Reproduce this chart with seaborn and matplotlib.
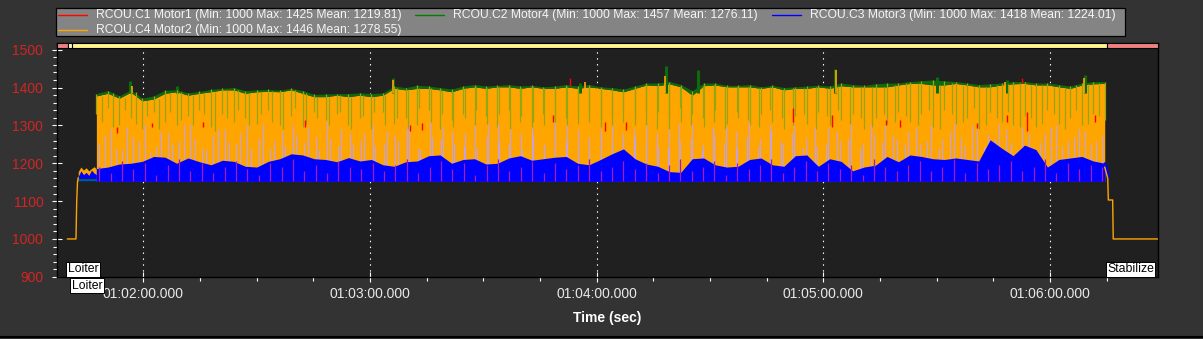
import numpy as np
import pandas as pd
import matplotlib
matplotlib.use("Agg")
import matplotlib.pyplot as plt
import matplotlib.transforms as mtransforms
from matplotlib.patches import Rectangle
from matplotlib.lines import Line2D
from matplotlib.ticker import MultipleLocator, FuncFormatter
import seaborn as sns

# ---------------- data ----------------
series_names = ["RCOU.C1 Motor1", "RCOU.C2 Motor4", "RCOU.C3 Motor3", "RCOU.C4 Motor2"]
series_colors = ["#ff0000", "#008000", "#0000ff", "#ffa500"]
series_min = [1000, 1000, 1000, 1000]
series_max = [1425, 1457, 1418, 1446]
series_mean = [1219.81, 1276.11, 1224.01, 1278.55]

# flight (armed, hovering) section: time in seconds of day
flight_start, flight_end = 3707.6, 3974.5
band_floor = 1152

# upper envelope of Motor2 (C4, orange)
orange_top = ([1378, 1385, 1372, 1388, 1365, 1370, 1385, 1389, 1380, 1385, 1389, 1394,
               1394, 1385, 1389, 1390, 1389, 1394, 1385, 1376, 1376, 1380, 1376, 1380]
              + [1376, 1380, 1398, 1394, 1398, 1398, 1394, 1389, 1398, 1402, 1398, 1402,
                 1402, 1398, 1402, 1398, 1398, 1402, 1398, 1402, 1398, 1394, 1389]
              + [1398, 1407, 1405, 1410, 1402, 1380, 1405, 1407, 1402, 1402, 1402, 1398,
                 1402, 1394, 1398, 1398, 1402, 1398, 1405, 1402, 1402, 1402, 1402, 1407]
              + [1411, 1411, 1407, 1407, 1411, 1407, 1402, 1402, 1407, 1410, 1411, 1407,
                 1407, 1402, 1398, 1407, 1410, 1411])
# upper envelope of Motor4 (C2, green)
green_top = ([1384, 1392, 1378, 1394, 1372, 1378, 1393, 1394, 1386, 1390, 1395, 1398,
              1400, 1392, 1394, 1395, 1393, 1398, 1392, 1382, 1383, 1384, 1384, 1386]
             + [1384, 1386, 1404, 1400, 1406, 1404, 1400, 1396, 1404, 1408, 1404, 1406,
                1408, 1404, 1406, 1402, 1404, 1408, 1404, 1408, 1402, 1400, 1396]
             + [1404, 1412, 1412, 1416, 1408, 1392, 1412, 1412, 1406, 1406, 1408, 1402,
                1406, 1400, 1402, 1404, 1406, 1404, 1412, 1408, 1406, 1410, 1412, 1412]
             + [1416, 1418, 1420, 1418, 1416, 1412, 1408, 1410, 1412, 1416, 1416, 1412,
                1412, 1408, 1404, 1412, 1416, 1416])
# upper envelope of Motor3 (C3, blue)
blue_top = ([1186, 1190, 1198, 1200, 1205, 1218, 1216, 1200, 1214, 1204, 1196, 1208,
             1205, 1192, 1190, 1205, 1212, 1225, 1222, 1212, 1210, 1204, 1215, 1206]
            + [1210, 1196, 1192, 1204, 1206, 1220, 1222, 1200, 1210, 1212, 1198, 1200,
               1214, 1220, 1208, 1212, 1216, 1218, 1200, 1196, 1210, 1225, 1238]
            + [1212, 1198, 1192, 1178, 1176, 1212, 1214, 1196, 1190, 1192, 1210, 1214,
               1196, 1192, 1220, 1222, 1192, 1212, 1205, 1180, 1190, 1195, 1218, 1204]
            + [1222, 1218, 1212, 1210, 1214, 1210, 1206, 1262, 1240, 1220, 1248, 1236,
               1190, 1210, 1214, 1218, 1206, 1200])
# lowest points of the Motor4 dips (olive streaks), two interleaved sets
green_dip_low = ([1330, 1345, 1300, 1320, 1290, 1335, 1310, 1300, 1325, 1340, 1295, 1330,
                  1310, 1320, 1305, 1340, 1300, 1325, 1295, 1335, 1315, 1330, 1300, 1320]
                 + [1290, 1335, 1305, 1320, 1300, 1340, 1290, 1315, 1330, 1300, 1325, 1295,
                    1340, 1310, 1285, 1330, 1300, 1320, 1305, 1335, 1295, 1325, 1310]
                 + [1320, 1300, 1335, 1290, 1310, 1330, 1295, 1340, 1305, 1320, 1300, 1330,
                    1310, 1290, 1325, 1305, 1335, 1300, 1315, 1330, 1290, 1320, 1305, 1335]
                 + [1310, 1330, 1295, 1340, 1305, 1320, 1290, 1335, 1310, 1300, 1325, 1295,
                    1340, 1305, 1320, 1300, 1330, 1315])
green_dip_low2 = ([1310, 1295, 1340, 1305, 1325, 1290, 1335, 1315, 1300, 1330, 1285, 1320,
                   1340, 1300, 1330, 1310, 1290, 1345, 1305, 1320, 1300, 1335, 1290, 1325]
                  + [1335, 1300, 1320, 1290, 1345, 1310, 1330, 1295, 1320, 1340, 1305, 1330,
                     1290, 1325, 1310, 1300, 1340, 1295, 1330, 1310, 1320, 1290, 1335]
                  + [1300, 1335, 1290, 1325, 1345, 1300, 1320, 1310, 1290, 1335, 1315, 1295,
                     1340, 1320, 1300, 1330, 1290, 1325, 1340, 1305, 1320, 1295, 1330, 1310]
                  + [1325, 1300, 1340, 1290, 1330, 1310, 1345, 1300, 1320, 1335, 1295, 1320,
                     1305, 1330, 1290, 1340, 1305, 1325])
# highest points of the Motor3 bursts (lavender streaks), two interleaved sets
blue_burst_high = ([1250, 1290, 1235, 1270, 1300, 1245, 1280, 1260, 1305, 1240, 1275, 1290,
                    1250, 1300, 1265, 1240, 1285, 1300, 1255, 1270, 1310, 1245, 1280, 1260]
                   + [1300, 1250, 1275, 1290, 1240, 1310, 1265, 1285, 1245, 1300, 1270, 1305,
                      1250, 1280, 1295, 1245, 1310, 1260, 1290, 1240, 1275, 1300, 1265]
                   + [1270, 1300, 1245, 1290, 1260, 1305, 1250, 1280, 1295, 1240, 1310, 1265,
                      1285, 1250, 1300, 1270, 1245, 1295, 1260, 1305, 1250, 1280, 1300, 1265]
                   + [1285, 1250, 1300, 1265, 1310, 1245, 1290, 1275, 1305, 1255, 1295, 1240,
                      1280, 1300, 1260, 1290, 1250, 1275])
blue_burst_high2 = ([1275, 1240, 1295, 1260, 1230, 1285, 1250, 1300, 1265, 1235, 1290, 1255,
                     1280, 1240, 1305, 1260, 1245, 1275, 1295, 1235, 1265, 1290, 1250, 1280]
                    + [1245, 1285, 1260, 1300, 1235, 1270, 1295, 1250, 1280, 1240, 1305, 1260,
                       1290, 1235, 1275, 1250, 1285, 1300, 1245, 1270, 1290, 1255, 1280]
                    + [1290, 1250, 1280, 1240, 1305, 1265, 1235, 1295, 1255, 1285, 1270, 1245,
                       1300, 1260, 1280, 1240, 1295, 1250, 1285, 1265, 1240, 1300, 1255, 1275]
                    + [1250, 1295, 1260, 1240, 1285, 1270, 1300, 1245, 1265, 1290, 1235, 1280,
                       1255, 1295, 1245, 1270, 1285, 1260])
# Motor1 (C1) peaks inside the blue band
red_peak = ([1190, 1175, 1205, 1185, 1200, 1170, 1195, 1210, 1180, 1200, 1175, 1190,
             1205, 1185, 1170, 1200, 1190, 1210, 1180, 1195, 1175, 1205, 1190, 1185]
            + [1200, 1180, 1195, 1210, 1175, 1190, 1205, 1185, 1200, 1170, 1195, 1210,
               1180, 1190, 1205, 1175, 1200, 1185, 1195, 1210, 1180, 1190, 1205]
            + [1185, 1200, 1175, 1195, 1210, 1180, 1190, 1205, 1170, 1200, 1185, 1195,
               1210, 1175, 1190, 1205, 1180, 1200, 1185, 1195, 1170, 1210, 1190, 1180]
            + [1195, 1205, 1180, 1190, 1210, 1175, 1200, 1185, 1195, 1205, 1180, 1190,
               1210, 1175, 1200, 1185, 1195, 1190])
# isolated visible Motor1 spikes
red_spike_t = [3713.0, 3722.2, 3735.8, 3762.8, 3790.6, 3793.7, 3828.4, 3832.9, 3842.2, 3847.8,
               3891.9, 3902.2, 3916.7, 3920.3, 3940.6, 3948.5, 3952.5, 3953.8, 3971.9]
red_spike_lo = [1279, 1297, 1297, 1297, 1284, 1288, 1310, 1403, 1284, 1288,
                1310, 1297, 1301, 1297, 1292, 1310, 1411, 1284, 1310]
red_spike_hi = [1297, 1306, 1310, 1315, 1301, 1306, 1327, 1425, 1310, 1310,
                1345, 1327, 1314, 1314, 1306, 1327, 1424, 1336, 1327]
# narrow Motor4 / Motor2 peaks above the band
green_spike_t = [3716.5, 3729.0, 3786.2, 3835.5, 3858.5, 3866.8, 3903.0, 3930.0, 3948.5, 3969.2]
green_spike_hi = [1418, 1405, 1425, 1412, 1457, 1446, 1448, 1428, 1420, 1432]
orange_spike_t = [3717.0, 3786.0, 3837.0, 3858.0, 3903.3, 3948.0, 3969.0]
orange_spike_hi = [1405, 1420, 1415, 1430, 1446, 1415, 1424]

# spin-up (before take-off) and landing
spinup_t = [3699.9, 3702.2, 3702.4, 3702.6, 3702.8]
spinup_v = [1000, 1000, 1100, 1150, 1162]
idle_t = [3702.8, 3703.5, 3704.2, 3704.9, 3705.6, 3706.3, 3707.0, 3707.6]
idle_orange = [1178, 1190, 1182, 1188, 1180, 1186, 1191, 1185]
idle_blue = [1165, 1180, 1170, 1176, 1168, 1182, 1174, 1170]
idle_green = [1156, 1155, 1156, 1155, 1156, 1155, 1156, 1155]
landing_t = [3974.5, 3975.3, 3975.45, 3976.6, 3976.75, 3988.6]
landing_v = [1190, 1160, 1103, 1103, 1000, 1000]
landing_blue_t = [3974.5, 3975.0, 3975.6]
landing_blue_v = [1200, 1190, 1165]

# flight modes
mode_names = ["Loiter", "Loiter", "Stabilize"]
mode_times = [3700.07, 3701.13, 3975.1]

x_range = (3697.1, 3988.6)
y_range = (900, 1517)

for arr in (green_top, blue_top, green_dip_low, green_dip_low2, blue_burst_high,
            blue_burst_high2, red_peak):
    assert len(arr) == len(orange_top)

# ---------------- style ----------------
sns.set_theme(style="dark")
plt.rcParams["font.family"] = ["Liberation Sans", "DejaVu Sans"]

W, H = 1203, 339
fig = plt.figure(figsize=(W / 100, H / 100), dpi=100)
fig.patch.set_facecolor("#333333")

ax_l, ax_r, ax_t, ax_b = 56.7, 1158, 43.3, 276.8
ax = fig.add_axes([ax_l / W, 1 - ax_b / H, (ax_r - ax_l) / W, (ax_b - ax_t) / H])
ax.set_facecolor("#202020")

n = len(orange_top)
t_grid = np.linspace(flight_start, flight_end, n)
dip_t = t_grid
dip_t2 = np.linspace(flight_start + 1.5, flight_end - 1.5, n)
burst_t = np.linspace(flight_start + 0.75, flight_end - 0.75, n)
burst_t2 = np.linspace(flight_start + 2.25, flight_end - 2.25, n)

ORANGE, GREEN, BLUE, RED = series_colors[3], series_colors[1], series_colors[2], series_colors[0]
OLIVE, LAVENDER, MAGENTA, DKGREEN = "#93a614", "#c8a2d2", "#a41cb0", "#0c6c0c"

# orange band (Motor2)
ax.fill_between(t_grid, band_floor, orange_top, color=ORANGE, lw=0, zorder=2)
# green fringe above (Motor4)
ax.fill_between(t_grid, orange_top, green_top, color=DKGREEN, lw=0, zorder=2.1)
ax.vlines(green_spike_t, 1385, green_spike_hi, color=DKGREEN, lw=2.2, zorder=2.05)
ax.vlines(orange_spike_t, 1385, orange_spike_hi, color=ORANGE, lw=1.2, zorder=2.15)
# Motor4 dips through the orange band
ax.vlines(dip_t, green_dip_low, green_top, color=OLIVE, lw=0.9, zorder=2.2)
ax.vlines(dip_t2, green_dip_low2, orange_top, color=OLIVE, lw=0.9, zorder=2.2)
# Motor3 bursts
ax.vlines(burst_t, band_floor, blue_burst_high, color=LAVENDER, lw=0.9, zorder=2.3)
ax.vlines(burst_t2, band_floor, blue_burst_high2, color=LAVENDER, lw=0.9, zorder=2.3)
# blue band (Motor3)
ax.fill_between(t_grid, band_floor, blue_top, color=BLUE, lw=0, zorder=2.4)
# Motor1 inside the blue band
ax.vlines(burst_t, band_floor, red_peak, color=MAGENTA, lw=0.9, zorder=2.5)
ax.vlines(red_spike_t, red_spike_lo, red_spike_hi, color=RED, lw=1.0, zorder=2.6)

# idle / spin-up / landing sections
ax.fill_between(idle_t, band_floor, idle_orange, color=ORANGE, lw=0, zorder=2)
ax.fill_between(idle_t, band_floor, idle_blue, color=BLUE, lw=0, zorder=2.4)
sns.lineplot(x=idle_t, y=idle_green, color=GREEN, lw=1.2, ax=ax, zorder=2.5)
sns.lineplot(x=spinup_t, y=spinup_v, color=ORANGE, lw=1.0, ax=ax, zorder=2.7)
sns.lineplot(x=landing_blue_t, y=landing_blue_v, color=BLUE, lw=1.5, ax=ax, zorder=2.6)
sns.lineplot(x=landing_t, y=landing_v, color=ORANGE, lw=1.0, ax=ax, zorder=2.7)

ax.set_xlim(*x_range)
ax.set_ylim(*y_range)

# ticks
ax.xaxis.set_major_locator(MultipleLocator(60))
ax.xaxis.set_minor_locator(MultipleLocator(15))
ax.yaxis.set_major_locator(MultipleLocator(100))
ax.yaxis.set_minor_locator(MultipleLocator(20))
ax.set_yticks(list(range(900, 1501, 100)))


def fmt_time(v, _):
    h = int(v // 3600)
    m = int((v % 3600) // 60)
    s = v % 60
    return f"{h:02d}:{m:02d}:{s:06.3f}"


ax.xaxis.set_major_formatter(FuncFormatter(fmt_time))
ax.tick_params(axis="both", which="major", direction="inout", length=7.2, width=0.8,
               color="white", bottom=True, left=True, top=False, right=False)
ax.tick_params(axis="both", which="minor", direction="out", length=3.0, width=0.8,
               color="white", bottom=True, left=True, top=False, right=False)
ax.tick_params(axis="y", which="major", labelsize=10, labelcolor="#d42424", pad=6)
ax.tick_params(axis="x", which="major", labelsize=10, labelcolor="#e8e8e8", pad=4)

ax.grid(False)
for xv in [3720, 3780, 3840, 3900, 3960]:
    ax.axvline(xv, color="white", lw=0.8, dashes=(1.3, 4.0), zorder=1)

for sp in ax.spines.values():
    sp.set_visible(True)
    sp.set_color("black")
    sp.set_linewidth(1.0)

ax.set_xlabel("Time (sec)", fontsize=10, fontweight="bold", color="white")
ax.xaxis.set_label_coords(0.5, -(318 - ax_b) / (ax_b - ax_t))
ax.xaxis.label.set_va("center")
ax.set_ylabel("")

# flight mode band at top
trans = mtransforms.blended_transform_factory(ax.transData, ax.transAxes)
band_h = 5.0 / (ax_b - ax_t)
band_edges = [x_range[0]] + mode_times + [x_range[1]]
band_cols = ["#f08080", "#fffbd0", "#fff68f", "#f08080"]
for i in range(len(band_cols)):
    ax.add_patch(Rectangle((band_edges[i], 1 - band_h), band_edges[i + 1] - band_edges[i], band_h,
                           transform=trans, facecolor=band_cols[i], edgecolor="black", lw=0.8,
                           zorder=5, clip_on=False))

# flight mode labels
px = 1.0 / (ax_b - ax_t)
label_box = dict(boxstyle="square,pad=0.12", fc="white", ec="black", lw=0.7)
ax.text(mode_times[0], 1.5 * px, mode_names[0], transform=trans, ha="left", va="bottom",
        fontsize=8.8, color="black", bbox=label_box, zorder=6, clip_on=False)
ax.text(mode_times[1], -3.0 * px, mode_names[1], transform=trans, ha="left", va="top",
        fontsize=8.8, color="black", bbox=label_box, zorder=6, clip_on=False)
ax.text(mode_times[2], 1.5 * px, mode_names[2], transform=trans, ha="left", va="bottom",
        fontsize=8.8, color="black", bbox=label_box, zorder=6, clip_on=False)


# legend (drawn as a framed box in figure coordinates)
def fx(p):
    return p / W


def fy(p):
    return 1 - p / H


fig.add_artist(Rectangle((fx(56.3), fy(36)), fx(1125) - fx(56.3), fy(8.3) - fy(36),
                         transform=fig.transFigure, facecolor="#848484", edgecolor="black", lw=0.9))
leg_pos = [(58, 15), (415, 15), (772, 15), (58, 30)]
for i in range(4):
    hx, hy = leg_pos[i]
    fig.add_artist(Line2D([fx(hx), fx(hx + 29)], [fy(hy), fy(hy)], color=series_colors[i], lw=1.0,
                          transform=fig.transFigure))
    label = f"{series_names[i]} (Min: {series_min[i]} Max: {series_max[i]} Mean: {series_mean[i]:.2f})"
    fig.text(fx(hx + 37.7), fy(hy), label, fontsize=8.7, color="#f4f4f4", va="center", ha="left")

# bottom border line
fig.add_artist(Line2D([0, 1], [fy(337), fy(337)], color="black", lw=1.5, transform=fig.transFigure))

fig.savefig("out.png", dpi=100, facecolor=fig.get_facecolor())
